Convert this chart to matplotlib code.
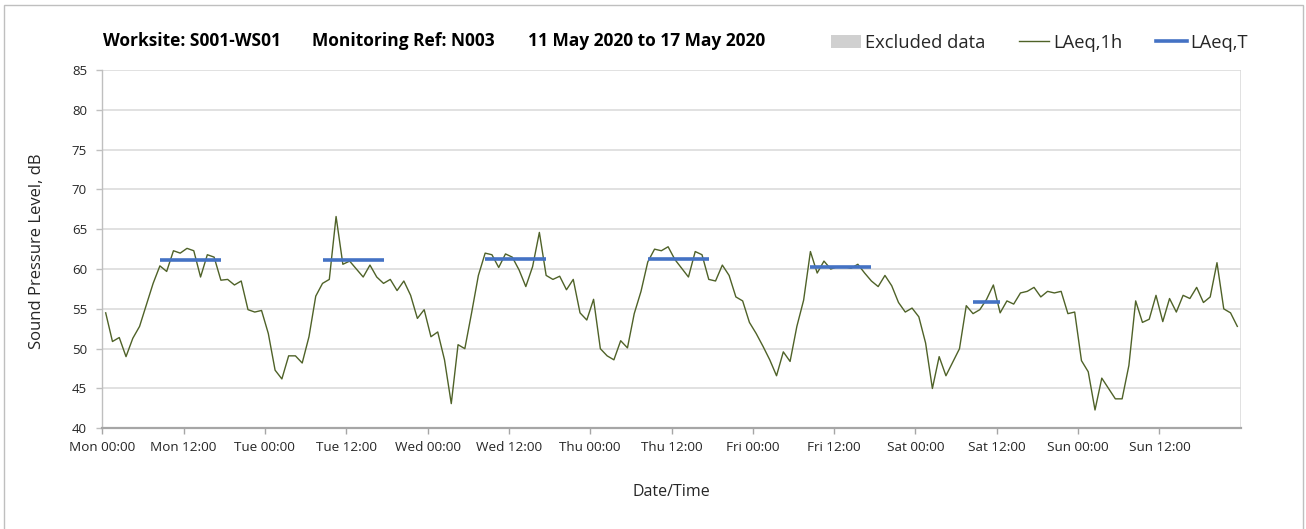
import numpy as np
import matplotlib
matplotlib.use("Agg")
import matplotlib.pyplot as plt
from matplotlib.patches import Patch, Rectangle
from matplotlib.lines import Line2D

# Hourly LAeq,1h values (dB), one list per day, 00:00 .. 23:00
MON = [54.5, 50.9, 51.4, 49.0, 51.3, 52.8, 55.5, 58.2, 60.4, 59.7, 62.3, 62.0,
       62.6, 62.3, 59.0, 61.8, 61.5, 58.6, 58.7, 58.0, 58.5, 54.9, 54.6, 54.8]
TUE = [51.9, 47.3, 46.2, 49.1, 49.1, 48.2, 51.5, 56.6, 58.2, 58.7, 66.6, 60.6,
       61.0, 60.0, 59.0, 60.5, 59.0, 58.2, 58.7, 57.3, 58.5, 56.7, 53.8, 54.9]
WED = [51.5, 52.1, 48.6, 43.1, 50.5, 50.0, 54.5, 59.2, 62.0, 61.8, 60.2, 61.9,
       61.5, 59.9, 57.8, 60.3, 64.6, 59.2, 58.7, 59.1, 57.4, 58.7, 54.5, 53.6]
THU = [56.2, 50.0, 49.1, 48.6, 51.0, 50.1, 54.4, 57.2, 60.9, 62.5, 62.3, 62.8,
       61.2, 60.1, 59.0, 62.2, 61.8, 58.7, 58.5, 60.5, 59.2, 56.5, 56.0, 53.3]
FRI = [51.9, 50.3, 48.6, 46.6, 49.6, 48.4, 52.8, 56.1, 62.2, 59.5, 61.0, 60.0,
       60.3, 60.3, 60.1, 60.6, 59.5, 58.5, 57.8, 59.2, 57.9, 55.8, 54.6, 55.1]
SAT = [54.0, 50.7, 45.0, 49.0, 46.6, 48.3, 50.0, 55.4, 54.4, 54.9, 56.2, 58.0,
       54.5, 56.0, 55.6, 57.0, 57.2, 57.7, 56.5, 57.2, 57.0, 57.2, 54.4, 54.6]
SUN = [48.5, 47.1, 42.3, 46.3, 45.0, 43.7, 43.7, 47.9, 56.0, 53.3, 53.7, 56.7,
       53.4, 56.3, 54.6, 56.7, 56.3, 57.7, 55.8, 56.5, 60.8, 55.0, 54.5, 52.8]

DAY_NAMES = ["Mon", "Tue", "Wed", "Thu", "Fri", "Sat", "Sun"]

# LAeq,T periods: first hour, last hour (inclusive), level
LAEQT_START = [8, 32, 56, 80, 104, 128]
LAEQT_END = [17, 41, 65, 89, 113, 132]
LAEQT_VALUES = [61.2, 61.1, 61.3, 61.3, 60.3, 55.8]

# no excluded periods in this week
EXCLUDED = []

TITLE_PARTS = ["Worksite: S001-WS01", "Monitoring Ref: N003",
               "11 May 2020 to 17 May 2020"]

GREEN = "#4F6228"
BLUE = "#4472C4"
GRID = "#d9d9d9"
TXT = "#262626"

plt.rcParams["font.family"] = ["Open Sans", "DejaVu Sans"]

levels = np.array(MON + TUE + WED + THU + FRI + SAT + SUN)
hours = np.arange(len(levels)) + 0.5

fig = plt.figure(figsize=(13.06, 5.29), dpi=100)
W, H = 1306, 529
ax = fig.add_axes([102.3 / W, 1 - 428.3 / H, (1240.7 - 102.3) / W, (428.3 - 70) / H])

for start, end in EXCLUDED:
    ax.axvspan(start, end, color="#d0d0d0", lw=0)

ax.plot(hours, levels, color=GREEN, lw=1.0, zorder=3)
for s, e, v in zip(LAEQT_START, LAEQT_END, LAEQT_VALUES):
    ax.plot([s + 0.5, e + 0.5], [v, v], color=BLUE, lw=2.6, zorder=4,
            solid_capstyle="butt")

ax.set_xlim(0, 168)
ax.set_ylim(40, 85)
ax.set_yticks(np.arange(40, 86, 5))
ax.set_xticks(np.arange(0, 168, 12))
ax.set_xticklabels([f"{DAY_NAMES[i // 2]} {'00:00' if i % 2 == 0 else '12:00'}"
                    for i in range(14)])
ax.set_xticks(np.arange(0, 169, 24), minor=True)

ax.grid(axis="y", color=GRID, lw=1.1)
ax.grid(axis="x", which="minor", color=GRID, lw=1.1)
ax.grid(axis="x", which="major", visible=False)
ax.set_axisbelow(True)

for side in ["top", "right"]:
    ax.spines[side].set_visible(False)
ax.spines["bottom"].set_color("#a6a6a6")
ax.spines["bottom"].set_linewidth(1.6)
ax.spines["left"].set_color("#bfbfbf")
ax.spines["left"].set_linewidth(1.0)

ax.tick_params(axis="y", length=4, width=1, color="#bfbfbf", pad=7,
               labelsize=9.5, labelcolor=TXT)
ax.tick_params(axis="x", which="major", length=4, width=1, color="#a6a6a6",
               pad=5, labelsize=9.7, labelcolor=TXT)
ax.tick_params(axis="x", which="minor", length=0)

fig.text(37 / W, 1 - 251 / H, "Sound Pressure Level, dB", rotation=90,
         ha="center", va="center", fontsize=12, color=TXT)
fig.text(671 / W, 1 - 492 / H, "Date/Time", ha="center", va="center",
         fontsize=11.5, color=TXT)

for xpos, part in zip([103, 312, 528], TITLE_PARTS):
    fig.text(xpos / W, 1 - 41 / H, part, ha="left", va="center",
             fontsize=12.5, fontweight="bold", color="black")

handles = [Patch(facecolor="#d0d0d0", edgecolor="none"),
           Line2D([], [], color=GREEN, lw=1.0),
           Line2D([], [], color=BLUE, lw=2.6)]
fig.legend(handles, ["Excluded data", "LAeq,1h", "LAeq,T"], ncol=3,
           loc="center left", bbox_to_anchor=(831 / W, 1 - 43 / H),
           frameon=False, fontsize=13.2, handlelength=1.65, handleheight=0.75,
           handletextpad=0.2, columnspacing=1.85, borderpad=0,
           borderaxespad=0, labelcolor=TXT)

fig.add_artist(Rectangle((4 / W, -0.02), (1303 - 4) / W, 1.02 - 5 / H,
                         transform=fig.transFigure, fill=False,
                         edgecolor="#bfbfbf", lw=1.0))

fig.savefig("out.png", dpi=100)
